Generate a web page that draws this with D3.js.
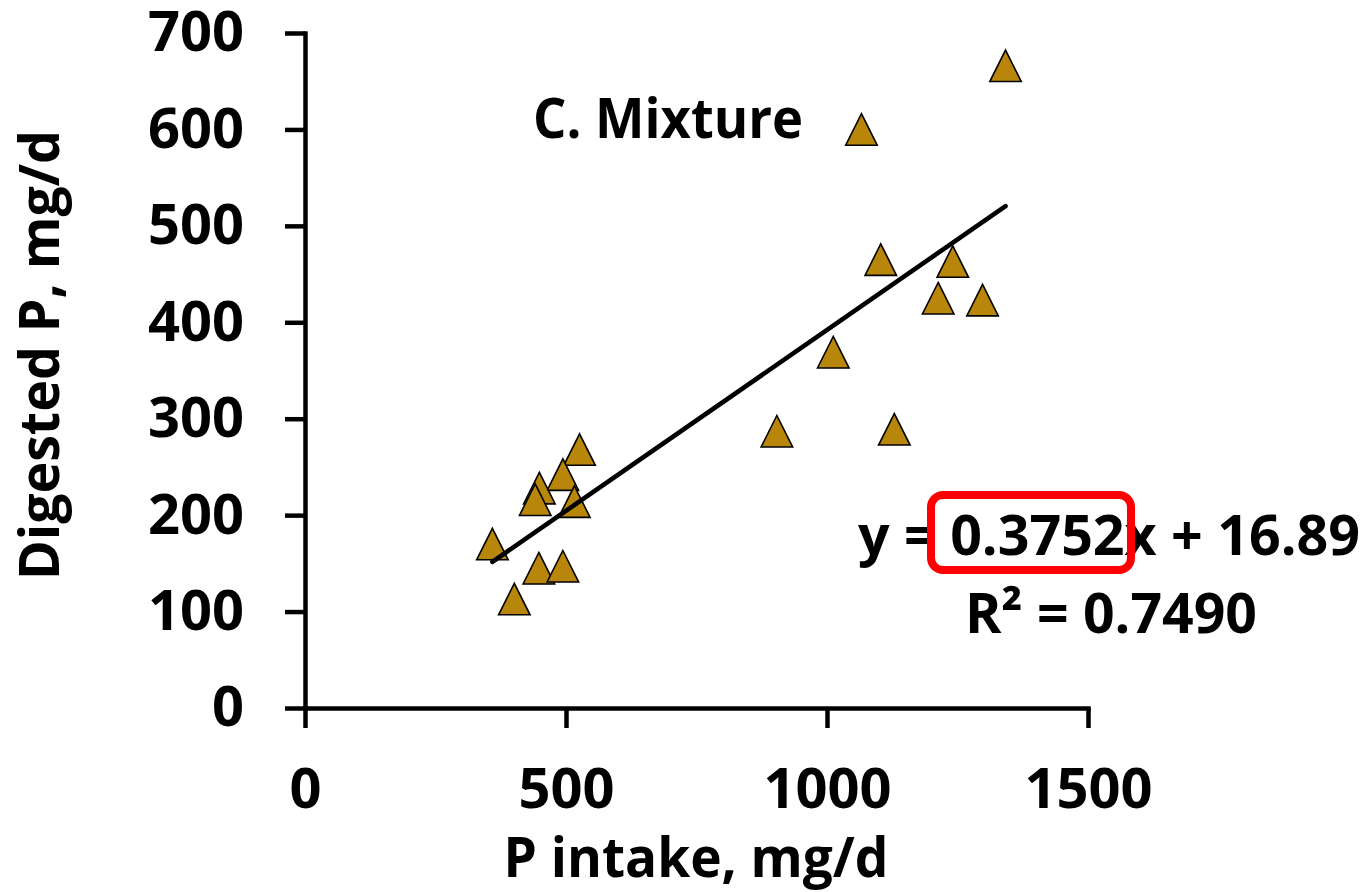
<!DOCTYPE html>
<html>
<head>
<meta charset="utf-8">
<script src="https://cdn.jsdelivr.net/npm/d3@7"></script>
<style>
  html, body { margin: 0; padding: 0; background: #fff; }
  svg { display: block; }
  text { font-family: "Open Sans", "Lato", sans-serif; font-weight: 700; fill: #000; }
</style>
</head>
<body>
<svg id="chart" width="1365" height="892"></svg>
<script>
// ---- data ----
const pIntake   = [1342, 1066, 1103, 1241, 1213, 1298, 1012, 904, 1129, 526, 494, 449, 441, 516, 359, 448, 494, 401];
const digestedP = [666, 600, 465, 463, 425, 423, 369, 287, 289, 268, 242, 228, 216, 214, 170, 145, 147, 113];
const xTicks = [0, 500, 1000, 1500];
const yTicks = [0, 100, 200, 300, 400, 500, 600, 700];
const trendSlope = [0.3752];
const trendIntercept = [16.89];
const rSquared = ["0.7490"];
const titleText = "C. Mixture";
const xTitle = "P intake, mg/d";
const yTitle = "Digested P, mg/d";

// ---- layout ----
const svg = d3.select("#chart");
const x = d3.scaleLinear().domain([0, 1500]).range([305, 1088]);
const y = d3.scaleLinear().domain([0, 700]).range([708, 33]);
const FS = 56;
const AXW = 4.5;

// axes
const xAxis = d3.axisBottom(x).tickValues(xTicks).tickSizeInner(20).tickSizeOuter(0).tickPadding(40).tickFormat(d3.format("d"));
const yAxis = d3.axisLeft(y).tickValues(yTicks).tickSizeInner(20).tickSizeOuter(0).tickPadding(41).tickFormat(d3.format("d"));

const gx = svg.append("g").attr("transform", `translate(0,${y(0)})`).call(xAxis);
const gy = svg.append("g").attr("transform", `translate(${x(0)},0)`).call(yAxis);
[gx, gy].forEach(g => {
  g.attr("font-size", null).attr("font-family", null);
  g.select(".domain").attr("stroke", "#000").attr("stroke-width", AXW).attr("stroke-linecap", "square");
  g.selectAll(".tick line").attr("stroke", "#000").attr("stroke-width", AXW);
  g.selectAll(".tick text").attr("fill", "#000").style("font-size", FS + "px");
});

// points
const triType = {
  draw(ctx, size) {
    const h = Math.sqrt(size);
    ctx.moveTo(0, -h / 2);
    ctx.lineTo(h / 2, h / 2);
    ctx.lineTo(-h / 2, h / 2);
    ctx.closePath();
  }
};
const pts = pIntake.map((v, i) => ({ x: v, y: digestedP[i] }));
svg.append("g").selectAll("path").data(pts).join("path")
  .attr("transform", d => `translate(${x(d.x)},${y(d.y)})`)
  .attr("d", d3.symbol(triType, 31.5 * 31.5))
  .attr("fill", "#B8860B")
  .attr("stroke", "#000")
  .attr("stroke-width", 1.6)
  .attr("stroke-linejoin", "miter");

// trendline
const xmin = d3.min(pIntake), xmax = d3.max(pIntake);
const line = d3.line().x(d => x(d)).y(d => y(trendSlope[0] * d + trendIntercept[0]));
svg.append("path").datum([xmin, xmax]).attr("d", line)
  .attr("fill", "none").attr("stroke", "#000").attr("stroke-width", 4.6).attr("stroke-linecap", "round");

// texts
function fitText(sel, w) {
  const n = sel.node().getComputedTextLength();
  if (n > 0 && Math.abs(n - w) > 2) sel.attr("textLength", w).attr("lengthAdjust", "spacingAndGlyphs");
  return sel;
}
fitText(svg.append("text").attr("x", 533).attr("y", 138).style("font-size", FS + "px").text(titleText), 270);
fitText(svg.append("text").attr("x", 696).attr("y", 877).attr("text-anchor", "middle").style("font-size", FS + "px").text(xTitle), 385);
fitText(svg.append("text").attr("transform", "translate(59,355) rotate(-90)").attr("text-anchor", "middle").style("font-size", FS + "px").text(yTitle), 450);

const eq = `y = ${trendSlope[0].toFixed(4)}x + ${trendIntercept[0].toFixed(2)}`;
fitText(svg.append("text").attr("x", 1109).attr("y", 555).attr("text-anchor", "middle").style("font-size", FS + "px").text(eq), 502);
fitText(svg.append("text").attr("x", 1111).attr("y", 633).attr("text-anchor", "middle").style("font-size", FS + "px").text(`R² = ${rSquared[0]}`), 292);

// red highlight box around slope
svg.append("rect").attr("x", 931).attr("y", 495).attr("width", 200).attr("height", 75)
  .attr("rx", 12).attr("ry", 12)
  .attr("fill", "none").attr("stroke", "#FF0000").attr("stroke-width", 8);
</script>
</body>
</html>
